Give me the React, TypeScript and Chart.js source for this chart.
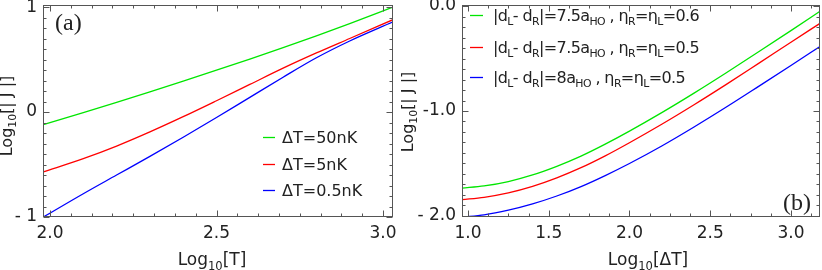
import React, { useEffect, useRef } from "react";
import { Chart, registerables } from "chart.js";

Chart.register(...registerables);

// ---------- Panel (a) data ----------
const logT = [1.98, 2.1, 2.2, 2.3, 2.4, 2.5, 2.6, 2.7, 2.8, 2.9, 3.03];
const dT50 = [-0.12, -0.005, 0.093, 0.193, 0.295, 0.399, 0.505, 0.613, 0.725, 0.842, 1.0];
const dT5 = [-0.57, -0.444, -0.324, -0.189, -0.044, 0.108, 0.263, 0.418, 0.563, 0.701, 0.88];
const dT05 = [-1.0, -0.778, -0.6, -0.422, -0.24, -0.052, 0.14, 0.332, 0.517, 0.677, 0.859];
const aXTicks = [2.0, 2.5, 3.0];
const aXLabels = ["2.0", "2.5", "3.0"];
const aYTicks = [-1, 0, 1];
const aYLabels = ["- 1", "0", "1"];

// ---------- Panel (b) data ----------
const logDT = [0.963, 1.1, 1.25, 1.4, 1.55, 1.7, 1.85, 2.0, 2.2, 2.4, 2.6, 2.8, 3.0, 3.18];
const b75_06 = [-1.735, -1.714, -1.672, -1.609, -1.527, -1.43, -1.316, -1.192, -1.016, -0.83, -0.636, -0.436, -0.234, -0.05];
const b75_05 = [-1.845, -1.822, -1.78, -1.718, -1.637, -1.54, -1.427, -1.302, -1.126, -0.94, -0.746, -0.546, -0.345, -0.165];
const b8_05 = [-2.012, -1.99, -1.945, -1.885, -1.81, -1.72, -1.615, -1.5, -1.333, -1.152, -0.962, -0.765, -0.566, -0.385];
const bXTicks = [1.0, 1.5, 2.0, 2.5, 3.0];
const bXLabels = ["1.0", "1.5", "2.0", "2.5", "3.0"];
const bYTicks = [-2, -1, 0];
const bYLabels = ["- 2.0", "-1.0", "0.0"];

const GREEN = "#00e600";
const RED = "#ff0000";
const BLUE = "#0000ff";
const FONT = "DejaVu Sans";
const TXT = "#222";

type Seg = [string, boolean];

function drawRich(ctx: CanvasRenderingContext2D, segs: Seg[], x: number, y: number, size: number, align: "left" | "center", spacing = 0) {
  const sub = size * 0.68;
  const c: any = ctx;
  c.letterSpacing = `${spacing}px`;
  let total = 0;
  const widths = segs.map(([t, s]) => {
    ctx.font = `${s ? sub : size}px "${FONT}"`;
    const w = ctx.measureText(t).width;
    total += w;
    return w;
  });
  let cx = align === "center" ? x - total / 2 : x;
  ctx.textBaseline = "alphabetic";
  ctx.textAlign = "left";
  segs.forEach(([t, s], i) => {
    ctx.font = `${s ? sub : size}px "${FONT}"`;
    ctx.fillText(t, cx, y + (s ? size * 0.28 : 0));
    cx += widths[i];
  });
  c.letterSpacing = "0px";
}

function pts(xs: number[], ys: number[]) {
  return xs.map((x, i) => ({ x, y: ys[i] }));
}

interface PanelCfg {
  xMin: number; xMax: number; yMin: number; yMax: number;
  xTicks: number[]; xLabels: string[]; yTicks: number[]; yLabels: string[];
  xMinor: number; yMinor: number; xMajor: number; yMajor: number;
  yAxisWidth: number; padRight: number;
  datasets: { data: { x: number; y: number }[]; color: string }[];
  extra: (ctx: CanvasRenderingContext2D, chart: any) => void;
}

function makeChart(canvas: HTMLCanvasElement, c: PanelCfg) {
  const decor = {
    id: "decor",
    afterDraw(chart: any) {
      const { ctx, chartArea: ca, scales } = chart;
      const xs = scales.x, ys = scales.y;
      ctx.save();
      ctx.strokeStyle = "#555";
      ctx.lineWidth = 1;
      const L = Math.round(ca.left) + 0.5, R = Math.round(ca.right) - 0.5;
      const T = Math.round(ca.top) + 0.5, B = Math.round(ca.bottom) - 0.5;
      ctx.strokeRect(L, T, R - L, B - T);
      ctx.beginPath();
      const isMajor = (v: number, m: number) => Math.abs(v / m - Math.round(v / m)) < 1e-6;
      for (let k = Math.ceil(c.xMin / c.xMinor); k * c.xMinor <= c.xMax + 1e-9; k++) {
        const v = k * c.xMinor;
        const p = Math.round(xs.getPixelForValue(v)) + 0.5;
        const len = isMajor(v, c.xMajor) ? 6 : 3;
        ctx.moveTo(p, B); ctx.lineTo(p, B - len);
        ctx.moveTo(p, T); ctx.lineTo(p, T + len);
      }
      for (let k = Math.ceil(c.yMin / c.yMinor); k * c.yMinor <= c.yMax + 1e-9; k++) {
        const v = k * c.yMinor;
        const p = Math.round(ys.getPixelForValue(v)) + 0.5;
        const len = isMajor(v, c.yMajor) ? 6 : 3;
        ctx.moveTo(L, p); ctx.lineTo(L + len, p);
        ctx.moveTo(R, p); ctx.lineTo(R - len, p);
      }
      ctx.stroke();
      ctx.fillStyle = TXT;
      c.extra(ctx, chart);
      ctx.restore();
    },
  };

  return new Chart(canvas, {
    type: "line",
    data: {
      datasets: c.datasets.map((d) => ({
        data: d.data,
        borderColor: d.color,
        backgroundColor: d.color,
        borderWidth: 1.3,
        pointRadius: 0,
        fill: false,
        cubicInterpolationMode: "monotone" as const,
      })),
    },
    options: {
      animation: false,
      responsive: false,
      maintainAspectRatio: false,
      layout: { padding: { top: 5, right: c.padRight, left: 0, bottom: 0 } },
      plugins: { legend: { display: false }, tooltip: { enabled: false } },
      scales: {
        x: {
          type: "linear",
          min: c.xMin,
          max: c.xMax,
          grid: { display: false, drawTicks: false },
          border: { display: false },
          afterBuildTicks: (s: any) => {
            s.ticks = c.xTicks.map((v) => ({ value: v }));
          },
          ticks: {
            font: { family: FONT, size: 17 },
            color: TXT,
            padding: 6,
            maxRotation: 0,
            autoSkip: false,
            callback: (_v: any, i: number) => c.xLabels[i],
          },
          afterFit: (s: any) => {
            s.height = 53;
            s.paddingLeft = 0;
            s.paddingRight = 0;
          },
        },
        y: {
          type: "linear",
          min: c.yMin,
          max: c.yMax,
          grid: { display: false, drawTicks: false },
          border: { display: false },
          afterBuildTicks: (s: any) => {
            s.ticks = c.yTicks.map((v) => ({ value: v }));
          },
          ticks: {
            font: { family: FONT, size: 17 },
            color: TXT,
            padding: 6,
            autoSkip: false,
            callback: (_v: any, i: number) => c.yLabels[i],
          },
          afterFit: (s: any) => {
            s.width = c.yAxisWidth;
            s.paddingTop = 0;
            s.paddingBottom = 0;
          },
        },
      },
    },
    plugins: [decor],
  } as any);
}

export default function App() {
  const leftRef = useRef<HTMLCanvasElement>(null);
  const rightRef = useRef<HTMLCanvasElement>(null);

  useEffect(() => {
    document.body.style.margin = "0";
    const left = makeChart(leftRef.current!, {
      xMin: 1.979, xMax: 3.03, yMin: -1.0, yMax: 1.02,
      xTicks: aXTicks, xLabels: aXLabels, yTicks: aYTicks, yLabels: aYLabels,
      xMinor: 0.0625, yMinor: 0.1, xMajor: 0.5, yMajor: 1,
      yAxisWidth: 43, padRight: 7,
      datasets: [
        { data: pts(logT, dT50), color: GREEN },
        { data: pts(logT, dT5), color: RED },
        { data: pts(logT, dT05), color: BLUE },
      ],
      extra: (ctx) => {
        ctx.font = '24px "Liberation Serif"';
        ctx.textBaseline = "alphabetic";
        ctx.fillText("(a)", 55, 30);
        const items: [string, string, number][] = [
          [GREEN, "ΔT=50nK", 137],
          [RED, "ΔT=5nK", 164],
          [BLUE, "ΔT=0.5nK", 190],
        ];
        items.forEach(([col, t, y]) => {
          ctx.strokeStyle = col;
          ctx.lineWidth = 1.3;
          ctx.beginPath();
          ctx.moveTo(263, y + 0.5);
          ctx.lineTo(275, y + 0.5);
          ctx.stroke();
          ctx.fillStyle = TXT;
          drawRich(ctx, [[t, false]], 282, y + 6, 16, "left");
        });
        drawRich(ctx, [["Log", false], ["10", true], ["[T]", false]], 212, 265, 17, "center");
        ctx.save();
        ctx.translate(12, 116);
        ctx.rotate(-Math.PI / 2);
        drawRich(ctx, [["Log", false], ["10", true], ["[| J |]", false]], 0, 0, 16, "center");
        ctx.restore();
      },
    });
    const right = makeChart(rightRef.current!, {
      xMin: 0.963, xMax: 3.18, yMin: -2.01, yMax: 0.01,
      xTicks: bXTicks, xLabels: bXLabels, yTicks: bYTicks, yLabels: bYLabels,
      xMinor: 0.125, yMinor: 0.1, xMajor: 0.5, yMajor: 1,
      yAxisWidth: 62, padRight: 2,
      datasets: [
        { data: pts(logDT, b75_06), color: GREEN },
        { data: pts(logDT, b75_05), color: RED },
        { data: pts(logDT, b8_05), color: BLUE },
      ],
      extra: (ctx) => {
        ctx.font = '24px "Liberation Serif"';
        ctx.textBaseline = "alphabetic";
        ctx.fillText("(b)", 383, 210);
        const items: [string, string, string, number][] = [
          [GREEN, "7.5", "0.6", 15],
          [RED, "7.5", "0.5", 47],
          [BLUE, "8", "0.5", 77],
        ];
        items.forEach(([col, d, eta, y]) => {
          ctx.strokeStyle = col;
          ctx.lineWidth = 1.3;
          ctx.beginPath();
          ctx.moveTo(70, y + 0.5);
          ctx.lineTo(83, y + 0.5);
          ctx.stroke();
          ctx.fillStyle = TXT;
          drawRich(
            ctx,
            [
              ["|d", false], ["L", true], ["- d", false], ["R", true],
              [`|=${d}a`, false], ["HO", true], [" , η", false], ["R", true],
              ["=η", false], ["L", true], [`=${eta}`, false],
            ],
            93, y + 6, 16, "left", -0.6
          );
        });
        drawRich(ctx, [["Log", false], ["10", true], ["[ΔT]", false]], 248, 265, 17, "center");
        ctx.save();
        ctx.translate(13, 112);
        ctx.rotate(-Math.PI / 2);
        drawRich(ctx, [["Log", false], ["10", true], ["[| J |]", false]], 0, 0, 16, "center");
        ctx.restore();
      },
    });
    return () => {
      left.destroy();
      right.destroy();
    };
  }, []);

  return (
    <div style={{ position: "relative", width: 822, height: 270, background: "#fff" }}>
      <canvas ref={leftRef} width={400} height={270} style={{ position: "absolute", left: 0, top: 0, width: 400, height: 270 }} />
      <canvas ref={rightRef} width={422} height={270} style={{ position: "absolute", left: 400, top: 0, width: 422, height: 270 }} />
    </div>
  );
}
